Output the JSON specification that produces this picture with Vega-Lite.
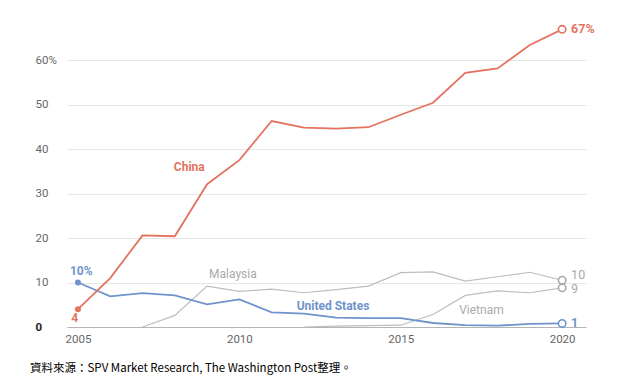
{
  "$schema": "https://vega.github.io/schema/vega-lite/v6.json",
  "width": 519,
  "height": 307,
  "autosize": {"type": "none"},
  "padding": {"left": 67, "right": 31, "top": 20, "bottom": 56},
  "background": "white",
  "config": {
    "view": {"stroke": null},
    "font": "Roboto",
    "axis": {"labelFont": "Roboto", "labelColor": "#666666", "labelFontSize": 11.5}
  },
  "title": {
    "text": "資料來源：SPV Market Research, The Washington Post整理。",
    "orient": "bottom",
    "anchor": "start",
    "dx": -5,
    "offset": 18,
    "font": "Noto Sans CJK TC",
    "fontSize": 11.5,
    "fontWeight": "normal",
    "color": "#000000"
  },
  "datasets": {
    "series": [
      {"year": 2005, "value": 4.0, "country": "China"},
      {"year": 2006, "value": 11.0, "country": "China"},
      {"year": 2007, "value": 20.6, "country": "China"},
      {"year": 2008, "value": 20.4, "country": "China"},
      {"year": 2009, "value": 32.1, "country": "China"},
      {"year": 2010, "value": 37.5, "country": "China"},
      {"year": 2011, "value": 46.3, "country": "China"},
      {"year": 2012, "value": 44.8, "country": "China"},
      {"year": 2013, "value": 44.6, "country": "China"},
      {"year": 2014, "value": 44.9, "country": "China"},
      {"year": 2015, "value": 47.7, "country": "China"},
      {"year": 2016, "value": 50.4, "country": "China"},
      {"year": 2017, "value": 57.1, "country": "China"},
      {"year": 2018, "value": 58.1, "country": "China"},
      {"year": 2019, "value": 63.4, "country": "China"},
      {"year": 2020, "value": 66.9, "country": "China"},
      {"year": 2005, "value": 10.0, "country": "United States"},
      {"year": 2006, "value": 6.9, "country": "United States"},
      {"year": 2007, "value": 7.6, "country": "United States"},
      {"year": 2008, "value": 7.1, "country": "United States"},
      {"year": 2009, "value": 5.1, "country": "United States"},
      {"year": 2010, "value": 6.2, "country": "United States"},
      {"year": 2011, "value": 3.3, "country": "United States"},
      {"year": 2012, "value": 3.0, "country": "United States"},
      {"year": 2013, "value": 2.1, "country": "United States"},
      {"year": 2014, "value": 2.0, "country": "United States"},
      {"year": 2015, "value": 2.0, "country": "United States"},
      {"year": 2016, "value": 0.9, "country": "United States"},
      {"year": 2017, "value": 0.4, "country": "United States"},
      {"year": 2018, "value": 0.3, "country": "United States"},
      {"year": 2019, "value": 0.7, "country": "United States"},
      {"year": 2020, "value": 0.8, "country": "United States"},
      {"year": 2007, "value": 0.0, "country": "Malaysia"},
      {"year": 2008, "value": 2.6, "country": "Malaysia"},
      {"year": 2009, "value": 9.2, "country": "Malaysia"},
      {"year": 2010, "value": 8.0, "country": "Malaysia"},
      {"year": 2011, "value": 8.5, "country": "Malaysia"},
      {"year": 2012, "value": 7.7, "country": "Malaysia"},
      {"year": 2013, "value": 8.4, "country": "Malaysia"},
      {"year": 2014, "value": 9.2, "country": "Malaysia"},
      {"year": 2015, "value": 12.2, "country": "Malaysia"},
      {"year": 2016, "value": 12.4, "country": "Malaysia"},
      {"year": 2017, "value": 10.3, "country": "Malaysia"},
      {"year": 2018, "value": 11.3, "country": "Malaysia"},
      {"year": 2019, "value": 12.3, "country": "Malaysia"},
      {"year": 2020, "value": 10.5, "country": "Malaysia"},
      {"year": 2012, "value": 0.0, "country": "Vietnam"},
      {"year": 2013, "value": 0.2, "country": "Vietnam"},
      {"year": 2014, "value": 0.3, "country": "Vietnam"},
      {"year": 2015, "value": 0.4, "country": "Vietnam"},
      {"year": 2016, "value": 2.8, "country": "Vietnam"},
      {"year": 2017, "value": 7.1, "country": "Vietnam"},
      {"year": 2018, "value": 8.1, "country": "Vietnam"},
      {"year": 2019, "value": 7.7, "country": "Vietnam"},
      {"year": 2020, "value": 8.8, "country": "Vietnam"}
    ],
    "names": [
      {"year": 2008.45, "value": 35.9, "text": "China", "country": "China"},
      {"year": 2012.9, "value": 4.7, "text": "United States", "country": "United States"},
      {"year": 2005.1, "value": 12.5, "text": "10%", "country": "United States"},
      {"year": 2004.9, "value": 2.0, "text": "4", "country": "China"}
    ],
    "greynames": [
      {"year": 2009.8, "value": 11.9, "text": "Malaysia"},
      {"year": 2017.5, "value": 3.8, "text": "Vietnam"}
    ],
    "ends": [
      {"year": 2020, "value": 66.9, "text": "67%", "country": "China"},
      {"year": 2020, "value": 0.8, "text": "1", "country": "United States"}
    ],
    "greyends": [
      {"year": 2020, "value": 11.6, "text": "10", "country": "Malaysia"},
      {"year": 2020, "value": 8.5, "text": "9", "country": "Vietnam"}
    ]
  },
  "encoding": {
    "x": {
      "field": "year", "type": "quantitative",
      "scale": {"domain": [2004.66, 2020.74], "nice": false, "zero": false},
      "axis": {
        "title": null, "values": [2005, 2010, 2015, 2020], "format": "d",
        "grid": false, "domainColor": "#b5b5b5", "domainWidth": 1.2,
        "ticks": false, "labelPadding": 6
      }
    },
    "y": {
      "field": "value", "type": "quantitative",
      "scale": {"domain": [0, 69], "nice": false},
      "axis": {
        "title": null, "values": [0, 10, 20, 30, 40, 50, 60],
        "grid": true, "gridColor": "#e6e6e6", "gridWidth": 1,
        "domain": false, "ticks": false,
        "labelAlign": "left", "labelPadding": 32,
        "labelExpr": "datum.value == 60 ? '60%' : datum.label",
        "labelFontWeight": {"condition": {"test": "datum.value == 0", "value": "bold"}, "value": "normal"},
        "labelColor": {"condition": {"test": "datum.value == 0", "value": "#222222"}, "value": "#666666"}
      }
    },
    "color": {
      "field": "country", "type": "nominal", "legend": null,
      "scale": {
        "domain": ["China", "United States", "Malaysia", "Vietnam"],
        "range": ["#e3735f", "#6f93cb", "#bdbdbd", "#bdbdbd"]
      }
    }
  },
  "layer": [
    {
      "data": {"name": "series"},
      "transform": [{"filter": "datum.country == 'Malaysia' || datum.country == 'Vietnam'"}],
      "mark": {"type": "line", "strokeWidth": 1.2},
      "encoding": {"detail": {"field": "country"}}
    },
    {
      "data": {"name": "series"},
      "transform": [{"filter": "datum.country == 'United States'"}],
      "mark": {"type": "line", "strokeWidth": 1.8}
    },
    {
      "data": {"name": "series"},
      "transform": [{"filter": "datum.country == 'China'"}],
      "mark": {"type": "line", "strokeWidth": 1.8}
    },
    {
      "data": {"name": "series"},
      "transform": [{"filter": "datum.year == 2005"}],
      "mark": {"type": "point", "filled": true, "size": 36, "opacity": 1}
    },
    {
      "data": {"name": "series"},
      "transform": [{"filter": "datum.year == 2020"}],
      "mark": {"type": "point", "filled": true, "fill": "white", "size": 55, "strokeWidth": 1.6, "opacity": 1},
      "encoding": {"stroke": {"field": "country", "type": "nominal", "legend": null, "scale": {"domain": ["China", "United States", "Malaysia", "Vietnam"], "range": ["#e3735f", "#6f93cb", "#a9a9a9", "#a9a9a9"]}}}
    },
    {
      "data": {"name": "names"},
      "mark": {"type": "text", "fontWeight": "bold", "fontSize": 12, "align": "center", "baseline": "middle"},
      "encoding": {
        "text": {"field": "text"},
        "color": {"field": "country", "type": "nominal", "legend": null, "scale": {"domain": ["China", "United States", "Malaysia", "Vietnam"], "range": ["#d9534a", "#3d6eaa", "#a9a9a9", "#a9a9a9"]}}
      }
    },
    {
      "data": {"name": "greynames"},
      "mark": {"type": "text", "fontSize": 12, "align": "center", "baseline": "middle"},
      "encoding": {"text": {"field": "text"}, "color": {"value": "#aaaaaa"}}
    },
    {
      "data": {"name": "ends"},
      "mark": {"type": "text", "fontSize": 12.5, "fontWeight": "bold", "align": "left", "baseline": "middle", "dx": 9},
      "encoding": {
        "text": {"field": "text"},
        "color": {"field": "country", "type": "nominal", "legend": null, "scale": {"domain": ["China", "United States", "Malaysia", "Vietnam"], "range": ["#d9534a", "#3d6eaa", "#a9a9a9", "#a9a9a9"]}}
      }
    },
    {
      "data": {"name": "greyends"},
      "mark": {"type": "text", "fontSize": 12.5, "align": "left", "baseline": "middle", "dx": 9},
      "encoding": {"text": {"field": "text"}, "color": {"value": "#aaaaaa"}}
    }
  ]
}
